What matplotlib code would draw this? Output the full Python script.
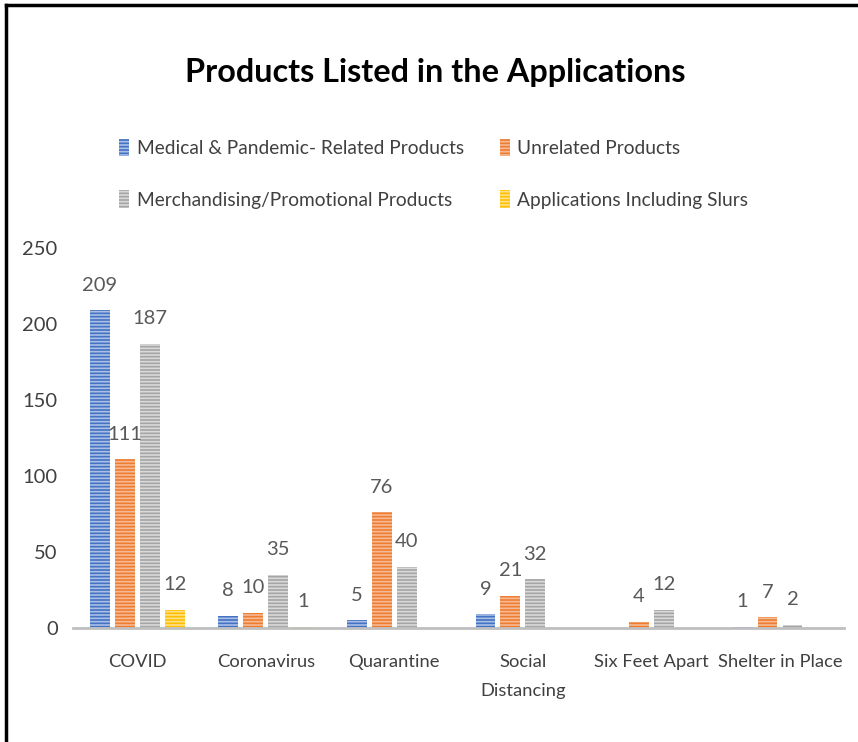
import numpy as np
import matplotlib.pyplot as plt
from matplotlib.lines import Line2D

categories = ["COVID", "Coronavirus", "Quarantine", "Social\nDistancing", "Six Feet Apart", "Shelter in Place"]
series_names = ["Medical & Pandemic- Related Products", "Unrelated Products",
                "Merchandising/Promotional Products", "Applications Including Slurs"]
medical = [209, 8, 5, 9, None, 1]
unrelated = [111, 10, 76, 21, 4, 7]
merch = [187, 35, 40, 32, 12, 2]
slurs = [12, 1, None, None, None, None]

colors = ["#4472C4", "#ED7D31", "#A5A5A5", "#FFC000"]
stripes = ["#A9BFE6", "#F7B993", "#D9D9D9", "#FFE08A"]

plt.rcParams['font.family'] = ['Lato', 'DejaVu Sans']
plt.rcParams['hatch.linewidth'] = 1.2

fig = plt.figure(figsize=(8.58, 7.42), dpi=100)
ax = fig.add_axes([0.085, 0.1536, 0.899, 0.5122])

x = np.arange(len(categories))
width = 0.155
step = 0.194
all_series = [medical, unrelated, merch, slurs]
handles = []
for i, vals in enumerate(all_series):
    pos = x + (i - 1.5) * step
    h = [v if v is not None else 0 for v in vals]
    bars = ax.bar(pos, h, width, color=colors[i], edgecolor=stripes[i],
                  hatch='-----', linewidth=0, label=series_names[i])
    handles.append(bars)
    # data labels
    for p, v in zip(pos, vals):
        if v is None:
            continue
        ax.text(p, v + 11, str(v), ha='center', va='bottom', fontsize=14.5, color='#595959')

ax.set_ylim(0, 250)
ax.set_xlim(-0.5, len(categories) - 0.5)
ax.set_yticks(range(0, 251, 50))
ax.set_xticks(x)
ax.set_xticklabels(categories, fontsize=13.2, color='#404040', linespacing=2.0)
ax.tick_params(axis='y', labelsize=14.5, labelcolor='#404040', length=0, pad=11)
ax.tick_params(axis='x', length=0, pad=19)
for s in ['top', 'right', 'left']:
    ax.spines[s].set_visible(False)
ax.spines['bottom'].set_color('#BFBFBF')
ax.spines['bottom'].set_linewidth(2)

fig.text(0.507, 0.902, "Products Listed in the Applications", ha='center', va='center',
         fontsize=23.3, fontweight='bold', color='black')

# row-major legend order
order = [0, 2, 1, 3]
fig.legend(handles=[handles[k] for k in order], loc='upper left', bbox_to_anchor=(0.119, 0.836), ncol=2,
           frameon=False, fontsize=13.8, handlelength=0.5, handleheight=1.0, handletextpad=0.4,
           columnspacing=1.9, labelspacing=1.74, labelcolor='#404040')

# chart frame
fig.add_artist(Line2D([0.007, 0.007], [0, 0.993], color='black', lw=2.5, transform=fig.transFigure))
fig.add_artist(Line2D([0.007, 1.0], [0.993, 0.993], color='black', lw=2.5, transform=fig.transFigure))

fig.savefig("out.png", dpi=100)
